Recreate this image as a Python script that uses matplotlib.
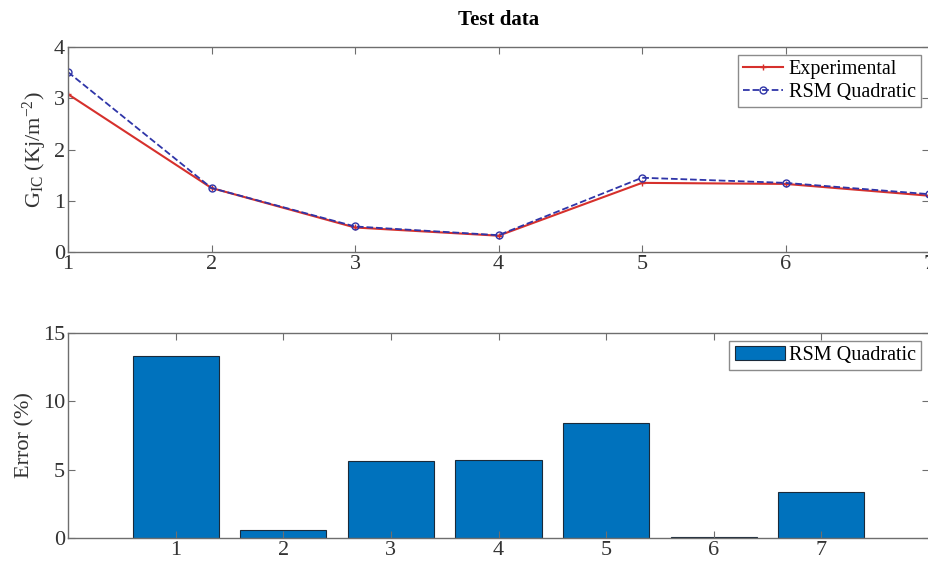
import matplotlib
matplotlib.use("Agg")
import matplotlib.pyplot as plt
import numpy as np

# data
samples = [1, 2, 3, 4, 5, 6, 7]
experimental = [3.08, 1.25, 0.48, 0.32, 1.35, 1.33, 1.10]
rsm_quadratic = [3.51, 1.25, 0.50, 0.33, 1.45, 1.35, 1.13]
error_pct = [13.3, 0.6, 5.6, 5.7, 8.4, 0.1, 3.4]

plt.rcParams["font.family"] = ["Liberation Serif", "DejaVu Serif"]
plt.rcParams["mathtext.fontset"] = "custom"
plt.rcParams["mathtext.rm"] = "Liberation Serif"
plt.rcParams["mathtext.it"] = "Liberation Serif:italic"

spine_col = "#6e6e6e"
text_col = "#333333"

fig = plt.figure(figsize=(9.29, 5.64), dpi=100)
ax1 = fig.add_axes([0.0732, 0.553, 0.9268, 0.3637])
ax2 = fig.add_axes([0.0732, 0.046, 0.9268, 0.3636])

def style(ax):
    for s in ax.spines.values():
        s.set_color(spine_col)
        s.set_linewidth(1.0)
    ax.tick_params(direction="in", top=True, right=True, length=5,
                   color=spine_col, labelcolor=text_col, labelsize=16, pad=2)

# top: experimental vs model
ax1.plot(samples, experimental, color="#d6302c", lw=1.5, marker="+",
         markersize=5, label="Experimental")
ax1.plot(samples, rsm_quadratic, color="#2f35a8", lw=1.3, ls="--", marker="o",
         markersize=5, markerfacecolor="none", label="RSM Quadratic")
ax1.set_xlim(1, 7)
ax1.set_ylim(0, 4)
ax1.set_xticks(samples)
ax1.set_yticks([0, 1, 2, 3, 4])
ax1.set_ylabel(r"G$_{\mathrm{IC}}$ (Kj/m$^{\mathrm{-2}}$)", fontsize=16,
               color=text_col, labelpad=4)
ax1.set_title("Test data", fontsize=15, fontweight="bold", pad=16)
style(ax1)
leg1 = ax1.legend(loc="upper right", fontsize=14.5, fancybox=False,
                  edgecolor=spine_col, handlelength=2.0, handletextpad=0.3,
                  borderpad=0.25, labelspacing=0.2, borderaxespad=0.4)
leg1.get_frame().set_linewidth(1.0)

# bottom: error bars
ax2.bar(samples, error_pct, width=0.8, color="#0072bd", edgecolor="#1a2a3a",
        linewidth=0.8, label="RSM Quadratic")
ax2.set_xlim(0, 8)
ax2.set_ylim(0, 15)
ax2.set_xticks(samples)
ax2.set_yticks([0, 5, 10, 15])
ax2.set_ylabel("Error (%)", fontsize=16, color=text_col, labelpad=6)
style(ax2)
leg2 = ax2.legend(loc="upper right", fontsize=14.5, fancybox=False,
                  edgecolor=spine_col, handlelength=2.5, handletextpad=0.2,
                  borderpad=0.25, borderaxespad=0.4)
leg2.get_frame().set_linewidth(1.0)

fig.savefig("out.png", dpi=100)
